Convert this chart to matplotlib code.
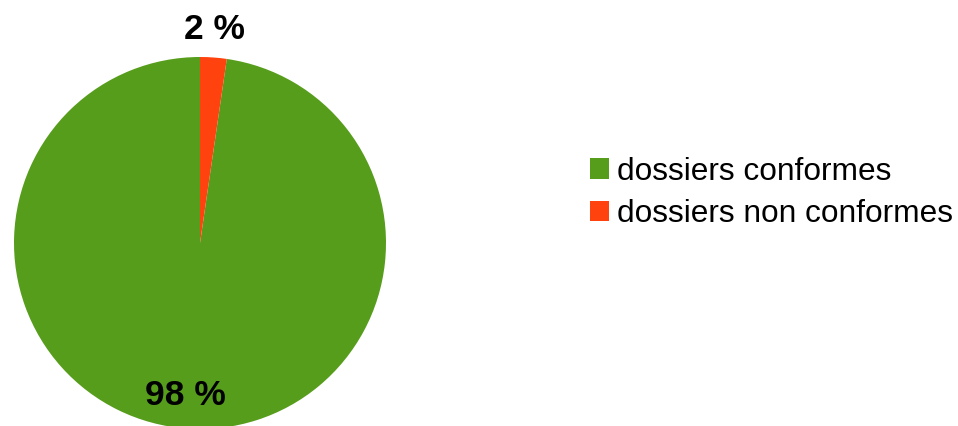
import matplotlib
matplotlib.use("Agg")
from matplotlib import pyplot as plt

plt.rcParams['font.family'] = ['Liberation Sans', 'DejaVu Sans']

# Data
labels = ["dossiers conformes", "dossiers non conformes"]
shares = [97.7, 2.3]
colors = ["#579d1c", "#ff420e"]
value_labels = ["98 %", "2 %"]

W, H = 958, 426
fig = plt.figure(figsize=(W / 100, H / 100), dpi=100)

# pie axes: centre (200, 243) px from top-left, radius 186 px
cx, cy, r = 200, 243, 186
ax = fig.add_axes([(cx - r) / W, (H - cy - r) / H, 2 * r / W, 2 * r / H])
ax.axis("off")

wedges, _ = ax.pie(shares, colors=colors, startangle=90, counterclock=True,
                   radius=1, wedgeprops=dict(linewidth=0))
ax.set_xlim(-1, 1)
ax.set_ylim(-1, 1)
ax.set_aspect("equal")

# value labels
ax.text(-0.08, -0.82, value_labels[0], ha="center", va="center",
        fontsize=25.5, fontweight="bold", clip_on=False)
ax.text(0.08, 1.15, value_labels[1], ha="center", va="center",
        fontsize=25.5, fontweight="bold", clip_on=False)

fig.legend(wedges, labels, loc="center left",
           bbox_to_anchor=(590 / W, (H - 193) / H),
           frameon=False, fontsize=22.8, borderpad=0, borderaxespad=0,
           handlelength=0.6, handleheight=0.6, handletextpad=0.25,
           labelspacing=0.4)

fig.savefig("out.png", dpi=100)
